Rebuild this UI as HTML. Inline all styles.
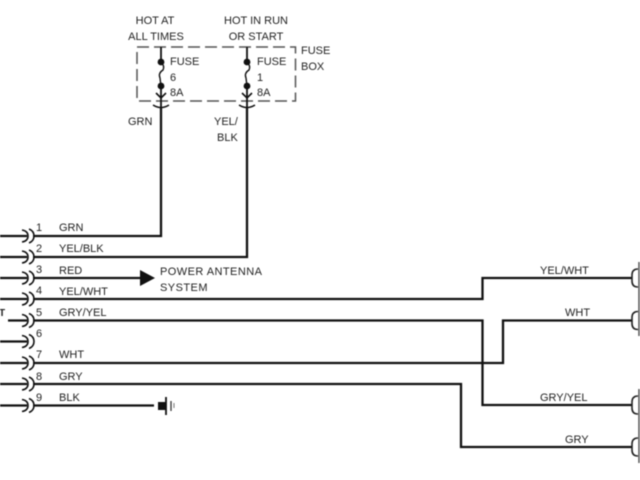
<!DOCTYPE html>
<html><head><meta charset="utf-8"><style>
html,body{margin:0;padding:0;background:#fff}
svg{display:block;filter:blur(0.4px)}
text{font-family:"Liberation Sans",sans-serif;font-size:11px;fill:#222}
</style></head><body>
<svg width="640" height="480" viewBox="0 0 640 480" xmlns="http://www.w3.org/2000/svg">
<defs>
<g id="c" fill="none" stroke="#111" stroke-width="1.6">
<path d="M22 -6 Q28 -5 28 0 Q28 5 22 6"/>
<path d="M29 -7 Q34 -5 34 0 Q34 5 29 7"/>
</g>
<g id="f">
<path d="M0 47V62 M0 86V124" stroke="#111" stroke-width="1.8" fill="none"/>
<circle cx="0" cy="62" r="3.4" fill="#111"/>
<circle cx="0" cy="86" r="3.4" fill="#111"/>
<path d="M0 62 Q4 66 2 70 Q-3 73 -1 78 L0 86" fill="none" stroke="#111" stroke-width="1.4"/>
<path d="M-5 93 L0 98 L5 93 M-8 105 Q0 110 8 105" fill="none" stroke="#111" stroke-width="1.6"/>
</g>
<g id="r" fill="none" stroke="#222" stroke-width="1.6">
<path d="M638 -9 Q632 -9 632 -3 V3 Q632 9 638 9"/>
</g>
</defs>
<path d="M137 47H295.500V101H137Z" fill="none" stroke="#555" stroke-width="1.5" stroke-dasharray="12 5"/>
<use href="#f" x="161"/>
<use href="#f" x="247"/>
<g fill="none" stroke="#111" stroke-width="2.3">
<path d="M0 236H27M33 236H161V108"/>
<path d="M0 257H27M33 257H247V108"/>
<path d="M0 278H27M33 278H142"/>
<path d="M0 299H27M33 299H482.500V278H632"/>
<path d="M8 320.500H27M33 320.500H482.500V405H632"/>
<path d="M0 341.500H27"/>
<path d="M0 363H27M33 363H503V320.500H632"/>
<path d="M0 384H27M33 384H461V447H632"/>
<path d="M0 405.500H27M33 405.500H154"/>
</g>
<path d="M140 270L155 278L140 286Z" fill="#111"/>
<rect x="158" y="402" width="8" height="8" fill="#111"/>
<path d="M166 397V415" stroke="#111" stroke-width="1.8"/>
<path d="M171 401V411" stroke="#333" stroke-width="1.3"/>
<path d="M174 403V408" stroke="#777" stroke-width="1"/>
<use href="#c" y="236"/><use href="#c" y="257"/><use href="#c" y="278"/>
<use href="#c" y="299"/><use href="#c" y="320.500"/><use href="#c" y="341.500"/>
<use href="#c" y="363"/><use href="#c" y="384"/><use href="#c" y="405.500"/>
<use href="#r" y="278"/><use href="#r" y="320.500"/><use href="#r" y="405"/><use href="#r" y="447"/>
<path d="M639 262V336M639 389V463" stroke="#555" stroke-width="1.5"/>
<text x="155" y="24" text-anchor="middle">HOT AT</text>
<text x="156" y="40" text-anchor="middle">ALL TIMES</text>
<text x="256" y="24" text-anchor="middle">HOT IN RUN</text>
<text x="256" y="40" text-anchor="middle">OR START</text>
<text x="301" y="54">FUSE</text>
<text x="301" y="70">BOX</text>
<text x="170" y="65">FUSE</text>
<text x="170" y="81">6</text>
<text x="170" y="96">8A</text>
<text x="257" y="65">FUSE</text>
<text x="257" y="81">1</text>
<text x="257" y="96">8A</text>
<text x="128" y="125">GRN</text>
<text x="214" y="125">YEL/</text>
<text x="217" y="141">BLK</text>
<g style="font-size:10px">
<text x="36" y="231">1</text><text x="36" y="252">2</text><text x="36" y="273">3</text>
<text x="36" y="294">4</text><text x="36" y="316">5</text><text x="36" y="337">6</text>
<text x="36" y="358">7</text><text x="36" y="380">8</text><text x="36" y="401">9</text>
</g>
<text x="59" y="231">GRN</text>
<text x="59" y="252">YEL/BLK</text>
<text x="59" y="274">RED</text>
<text x="59" y="295">YEL/WHT</text>
<text x="59" y="316">GRY/YEL</text>
<text x="59" y="358">WHT</text>
<text x="59" y="380">GRY</text>
<text x="59" y="401">BLK</text>
<text x="160" y="275" style="letter-spacing:.45px">POWER ANTENNA</text>
<text x="160" y="291" style="letter-spacing:.45px">SYSTEM</text>
<text x="540" y="274">YEL/WHT</text>
<text x="565" y="316">WHT</text>
<text x="540" y="401">GRY/YEL</text>
<text x="565" y="443">GRY</text>
<text x="-1" y="316" style="font-size:10px;font-weight:bold">T</text>
</svg>
</body></html>
